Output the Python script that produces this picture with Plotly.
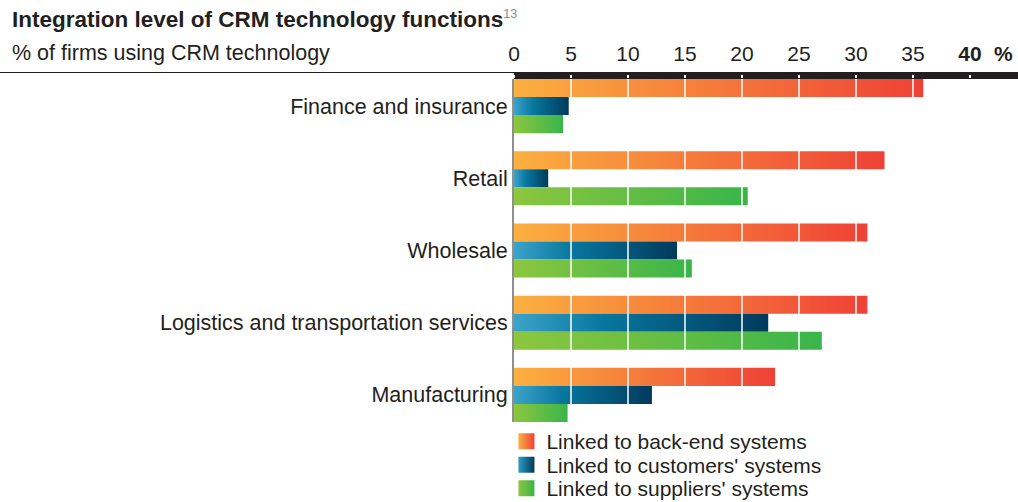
import plotly.graph_objects as go

# Data: share of firms (%) by integration type
categories = ["Finance and insurance", "Retail", "Wholesale",
              "Logistics and transportation services", "Manufacturing"]
series_names = ["Linked to back-end systems", "Linked to customers' systems",
                "Linked to suppliers' systems"]
back_end = [35.9, 32.5, 31.0, 31.0, 22.9]
customers = [4.8, 3.0, 14.3, 22.3, 12.1]
suppliers = [4.3, 20.5, 15.6, 27.0, 4.7]
tick_values = [0, 5, 10, 15, 20, 25, 30, 35, 40]
tick_labels = ["0", "5", "10", "15", "20", "25", "30", "35", "<b>40</b>"]

series_values = [back_end, customers, suppliers]
gradients = [
    [[0, "#fbb040"], [1, "#ef4136"]],
    [[0, "#3ca3c9"], [0.35, "#08779f"], [1, "#003a5c"]],
    [[0, "#8dc63f"], [1, "#39b54a"]],
]
legend_colors = [("#fbb040", "#ef4136"), ("#2e9cc4", "#003a5c"), ("#8dc63f", "#39b54a")]

FONT = "Liberation Sans, Arial, Helvetica, sans-serif"
INK = "#231f20"
BAR_H = 0.25  # bar thickness in category units
FS = 21       # body text size

MARGIN_L, MARGIN_T, MARGIN_B = 514, 79, 80
plot_w = 1018 - MARGIN_L
plot_h = 502 - MARGIN_T - MARGIN_B
x_max = plot_w / 11.4

fig = go.Figure()

# Each bar is a filled rectangle so it can carry its own horizontal gradient
for j, (vals, scale) in enumerate(zip(series_values, gradients)):
    for i, v in enumerate(vals):
        c = i + (j - 1) * BAR_H
        y0, y1 = c - BAR_H / 2, c + BAR_H / 2
        fig.add_trace(go.Scatter(
            x=[0, v, v, 0, 0], y=[y0, y0, y1, y1, y0],
            mode="lines", fill="toself", line=dict(width=0),
            fillgradient=dict(type="horizontal", colorscale=scale),
            showlegend=False, hoverinfo="skip",
        ))

# Legend swatches, one legend box per series for tight row spacing
legend_names = ["legend", "legend2", "legend3"]
for name, (c0, c1), lg in zip(series_names, legend_colors, legend_names):
    fig.add_trace(go.Scatter(
        x=[None], y=[None], mode="markers", name=name, legend=lg,
        marker=dict(symbol="square", size=19, color=c0,
                    gradient=dict(type="horizontal", color=c1),
                    line=dict(width=0)),
    ))

legend_common = dict(x=-0.015, xanchor="left", yanchor="middle",
                     font=dict(size=21, color=INK, family=FONT),
                     itemwidth=30, bgcolor="rgba(0,0,0,0)", borderwidth=0)
legend_rows_px = [441.5, 465, 488.5]
legends = {lg: dict(legend_common, y=(MARGIN_T + plot_h - py) / plot_h)
           for lg, py in zip(legend_names, legend_rows_px)}

fig.update_layout(
    width=1018, height=502,
    margin=dict(l=MARGIN_L, r=0, t=MARGIN_T, b=MARGIN_B, autoexpand=False),
    paper_bgcolor="white", plot_bgcolor="white",
    font=dict(family=FONT, color=INK, size=FS),
    xaxis=dict(
        range=[0, x_max], side="top", tickmode="array",
        tickvals=tick_values, ticktext=tick_labels,
        ticks="outside", ticklen=3, tickwidth=2, tickcolor="white",
        showgrid=False, zeroline=False, showline=False,
        ticklabelstandoff=6, tickfont=dict(size=FS, color=INK),
    ),
    yaxis=dict(
        range=[len(categories) - 1 + 1.5 * BAR_H, -1.5 * BAR_H],
        tickmode="array", tickvals=list(range(len(categories))), ticktext=categories,
        ticks="", showgrid=False, zeroline=False,
        showline=True, linecolor="#8f8f8f", linewidth=2, layer="above traces",
        ticklabelstandoff=0, tickfont=dict(size=21.5, color=INK),
    ),
    showlegend=True,
    **legends,
)

shapes = []
# Thick dark band along the top axis
shapes.append(dict(type="rect", xref="paper", yref="paper", x0=0, x1=1,
                   ysizemode="pixel", yanchor=1, y0=0, y1=7,
                   fillcolor=INK, line=dict(width=0), layer="below"))
# Thin rule to the left of the band
shapes.append(dict(type="line", xref="paper", yref="paper",
                   x0=-MARGIN_L / plot_w, x1=0, ysizemode="pixel", yanchor=1, y0=6.5, y1=6.5,
                   line=dict(color=INK, width=1), layer="below"))
# White gridlines drawn over the bars
for t in tick_values[1:]:
    shapes.append(dict(type="line", xref="x", yref="paper", x0=t, x1=t, y0=0, y1=1,
                       line=dict(color="white", width=1.5), layer="above"))
fig.update_layout(shapes=shapes)

left_edge = -(MARGIN_L - 10) / plot_w
fig.add_annotation(text="<b>Integration level of CRM technology functions</b>"
                        "<sup><span style='font-size:12.5px;color:#8a8a8a'>13</span></sup>",
                   xref="paper", yref="paper", x=left_edge, y=1, yshift=60,
                   xanchor="left", yanchor="middle", showarrow=False,
                   font=dict(size=22.5, color=INK))
fig.add_annotation(text="% of firms using CRM technology",
                   xref="paper", yref="paper", x=left_edge, y=1, yshift=26,
                   xanchor="left", yanchor="middle", showarrow=False,
                   font=dict(size=21.5, color=INK))
fig.add_annotation(text="<b>%</b>", xref="paper", yref="paper",
                   x=(1003 - MARGIN_L) / plot_w, y=1, yshift=26,
                   xanchor="center", yanchor="middle", showarrow=False,
                   font=dict(size=FS, color=INK))

fig.write_html("out.html")
